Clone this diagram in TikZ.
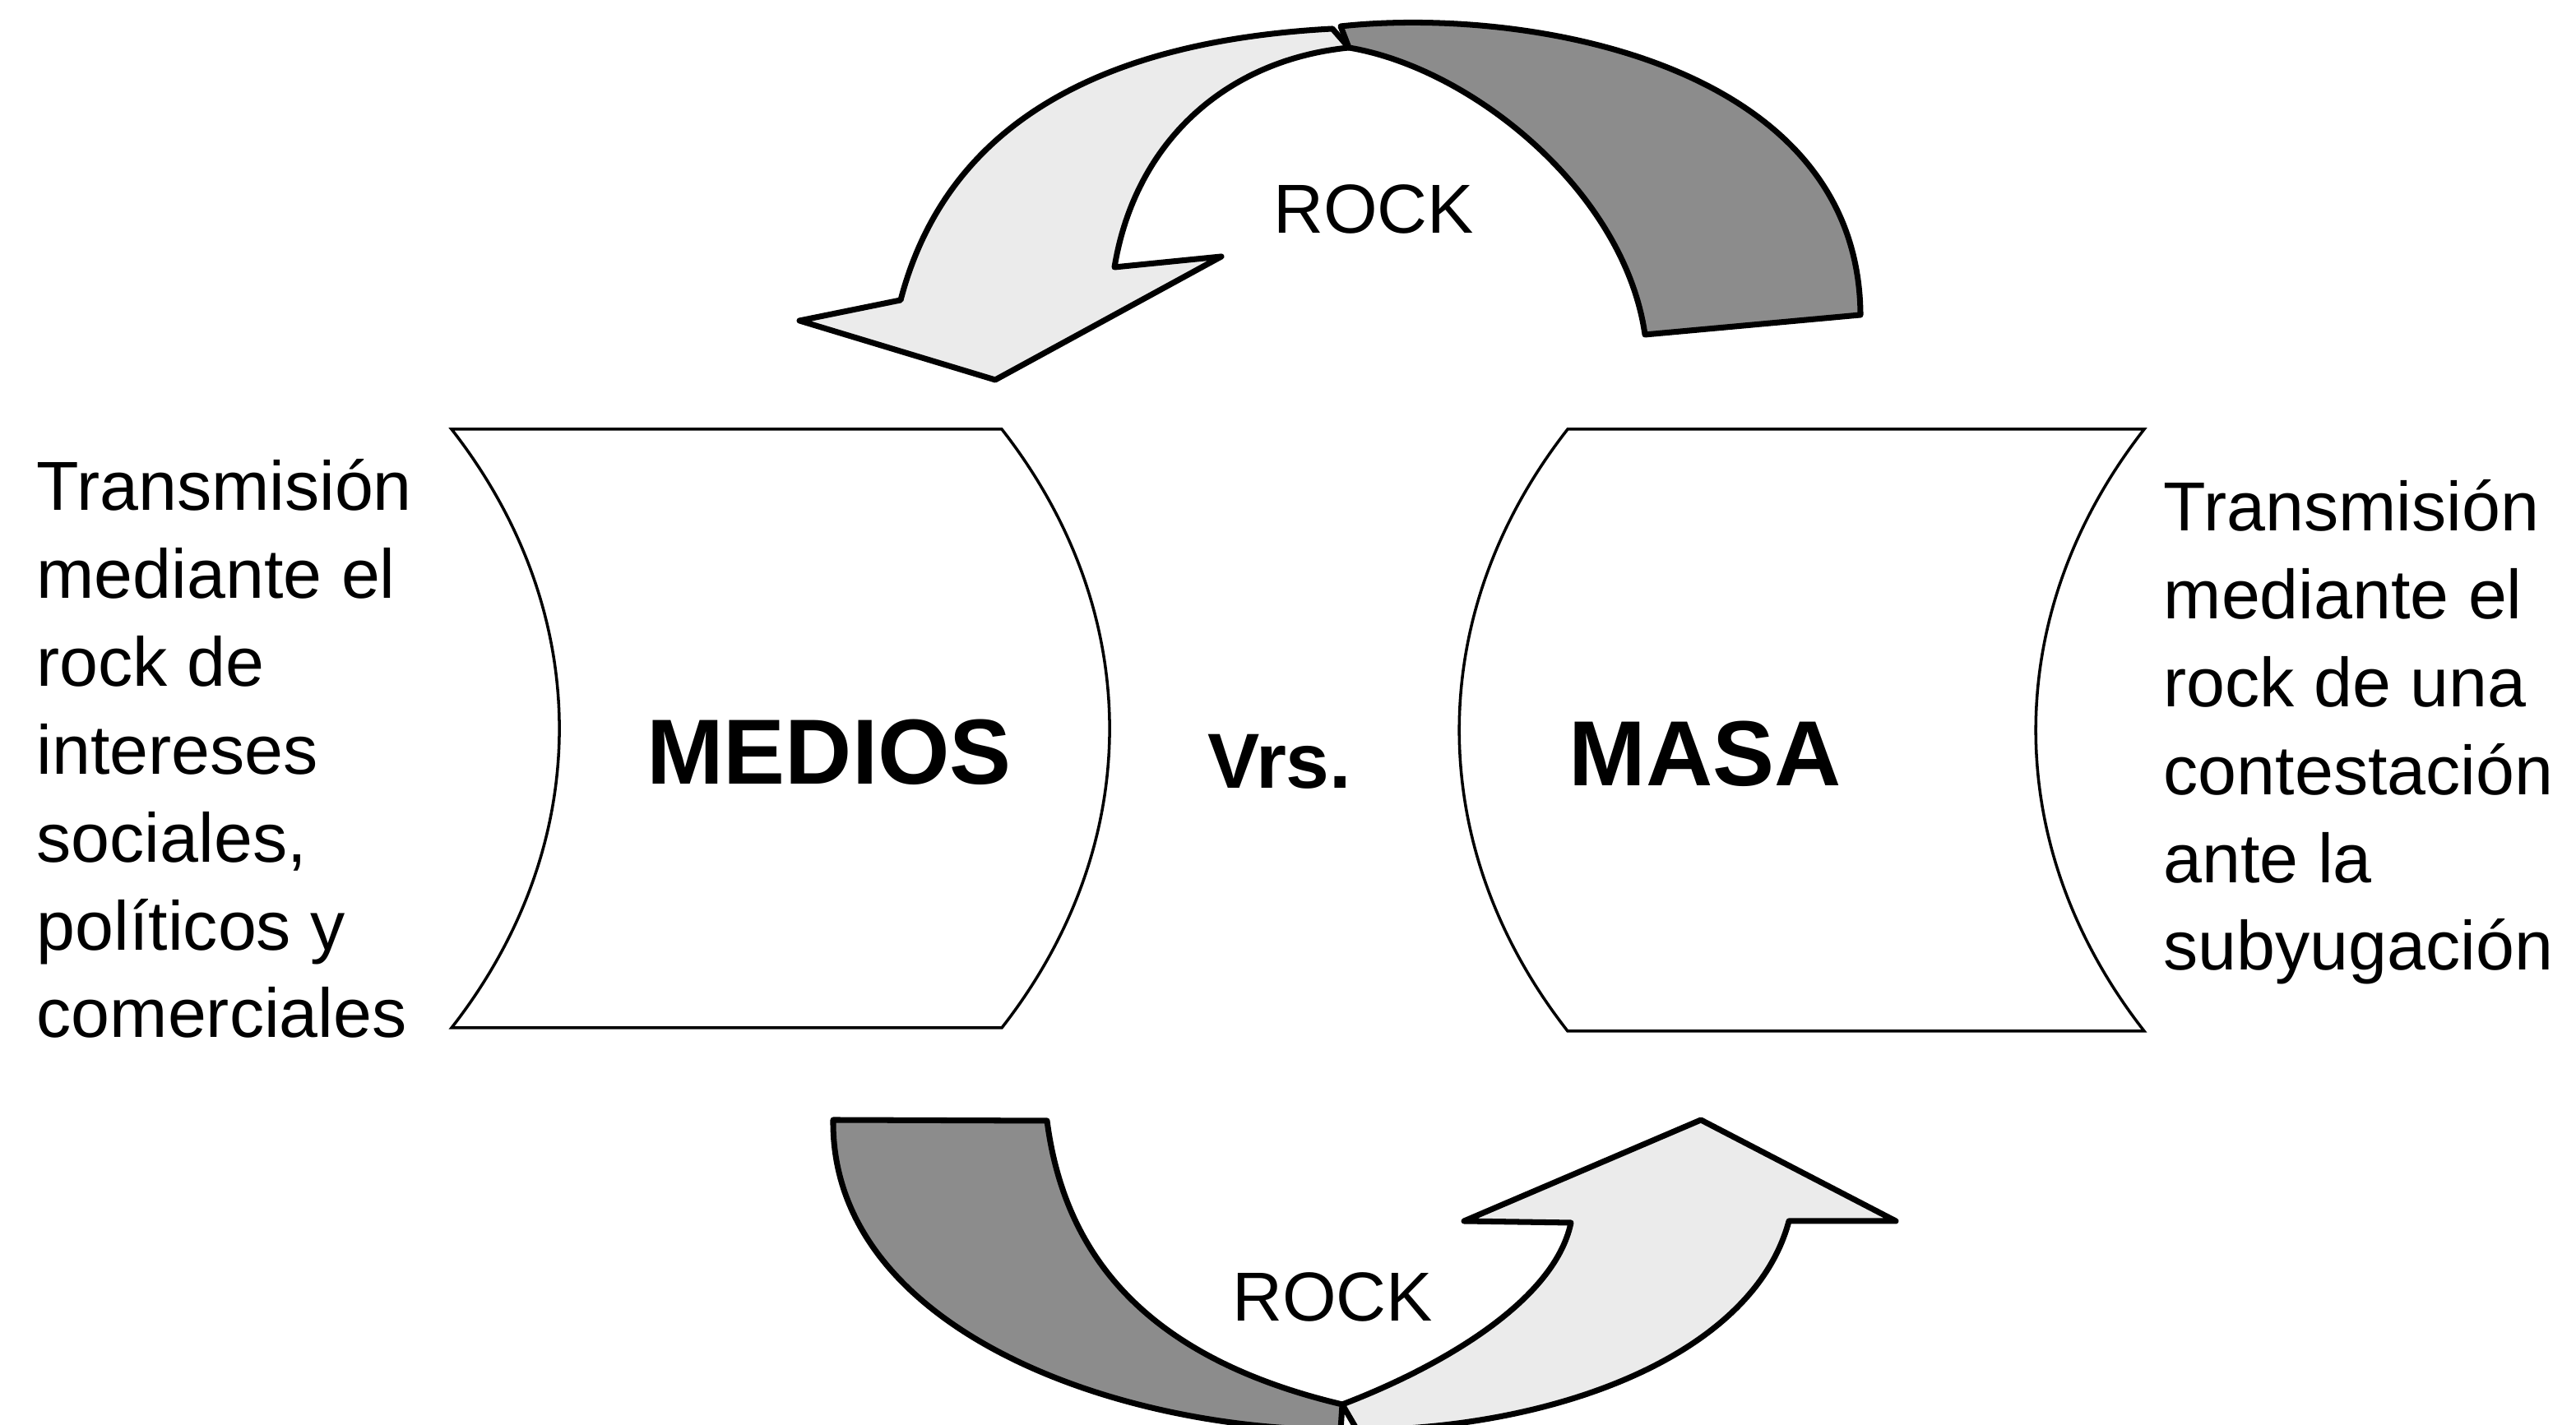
\documentclass[tikz,border=0pt]{standalone}
\usepackage{fontspec}
\setmainfont{Liberation Sans}
\usepackage{tikz}
\usetikzlibrary{positioning}

\begin{document}
\begin{tikzpicture}

        \tikzset{
            scrollbox/.style={draw=black, line width=1pt},
            frontband/.style={draw=black, line width=2pt, fill=black!8, line join=round},
            backband/.style={draw=black, line width=2pt, fill=black!45, line join=round},
            sidenote/.style={align=left, anchor=base west, inner sep=0pt, font=\fontsize{24}{30.4}\selectfont},
            bigword/.style={anchor=base, inner sep=0pt, font=\fontsize{32}{38}\selectfont\bfseries},
            rocklabel/.style={anchor=base, inner sep=0pt, font=\fontsize{24}{28}\selectfont}
        }

        \useasboundingbox (0, 0) rectangle (31.32, 17.33);


        \draw[scrollbox] (5.49, 12.11) -- (12.18, 12.11) to[bend left=38] (12.18, 4.83) -- (5.49, 4.83) to[bend right=38] cycle;
        \draw[scrollbox] (19.06, 12.11) -- (26.07, 12.11) to[bend right=38] (26.07, 4.79) -- (19.06, 4.79) to[bend left=38] cycle;


        \draw[backband] (16.30, 17.01) .. controls (18.5, 17.25) and (22.6, 16.6) .. (22.62, 13.50) -- (20.00, 13.26) .. controls (19.75, 15.0) and (17.9, 16.5) .. (16.40, 16.75) -- cycle;
        \draw[frontband] (10.95, 13.68) .. controls (11.4, 15.4) and (12.8, 16.8) .. (16.20, 16.98) -- (16.40, 16.75) .. controls (14.9, 16.6) and (13.8, 15.6) .. (13.55, 14.08) -- (14.85, 14.21) -- (12.10, 12.71) -- (9.72, 13.43) -- cycle;


        \draw[backband] (10.13, 3.71) -- (12.73, 3.70) .. controls (12.95, 2.0) and (14.0, 0.8) .. (16.32, 0.25) -- (16.30, -0.06) .. controls (13.5, -0.06) and (10.1, 1.2) .. cycle;
        \draw[frontband] (16.32, 0.25) .. controls (17.5, 0.7) and (18.9, 1.5) .. (19.10, 2.46) -- (17.80, 2.48) -- (20.68, 3.71) -- (23.05, 2.48) -- (21.75, 2.48) .. controls (21.3, 0.8) and (18.8, -0.06) .. (16.50, -0.06) -- cycle;


        \node[sidenote] (mediosnote) at (0.44, 4.71) {Transmisión\\mediante el\\rock de\\intereses\\sociales,\\políticos y\\comerciales};
        \node[sidenote] (masanote) at (26.30, 5.53) {Transmisión\\mediante el\\rock de una\\contestación\\ante la\\subyugación};

        \node[bigword] (medios) at (10.08, 7.79) {MEDIOS};
        \node[bigword, font=\fontsize{27}{32}\selectfont\bfseries] (versus) at (15.56, 7.74) {Vrs.};
        \node[bigword] (masa) at (20.73, 7.77) {MASA};

        \node[rocklabel] (rocktop) at (16.70, 14.49) {ROCK};
        \node[rocklabel] (rockbottom) at (16.20, 1.26) {ROCK};

    \end{tikzpicture}
\end{document}
